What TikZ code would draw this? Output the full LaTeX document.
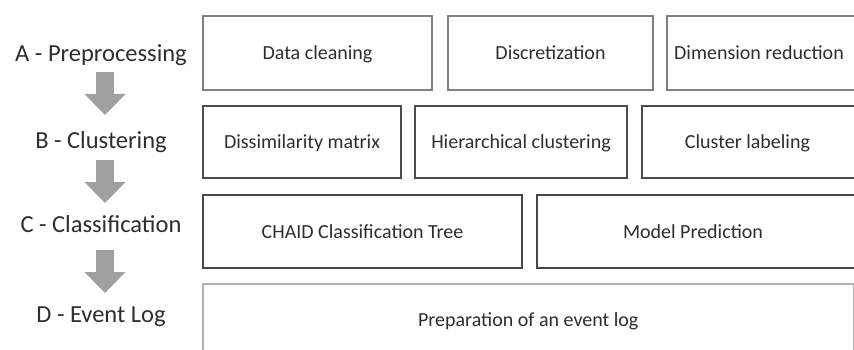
\documentclass[tikz,border=0pt]{standalone}
\usepackage{fontspec}
\setmainfont{Carlito}
\usetikzlibrary{arrows.meta}
\definecolor{txt}{HTML}{2E2E2E}
\definecolor{arrowgray}{HTML}{A0A0A0}
\begin{document}
\begin{tikzpicture}[x=1pt,y=-1pt,
  box/.style={draw, line width=2pt, anchor=north west, inner sep=0pt,
    text height=14pt, text depth=0pt,
    text=txt, font=\fontsize{20}{24}\selectfont, fill=white},
  boxa/.style={box, draw=black!50},
  boxb/.style={box, draw=black!70},
  boxc/.style={box, draw=black!72},
  boxd/.style={box, draw=black!30, line width=1.5pt},
  lab/.style={text=txt, font=\fontsize{24.5}{28}\selectfont, inner sep=0pt, anchor=base},
  bigarrow/.style={draw=arrowgray, line width=18pt,
    -{Triangle[length=21pt,width=40pt,fill=arrowgray]}}]
\useasboundingbox (0,0) rectangle (854,350);
\clip (0,0) rectangle (854,350);
\fill[white] (0,0) rectangle (854,350);
% labels
\node[lab] (la) at (101,62) {A - Preprocessing};
\node[lab] (lb) at (101,149) {B - Clustering};
\node[lab] (lc) at (101,232) {C - Classification};
\node[lab] (ld) at (101,322) {D - Event Log};
% arrows
\coordinate (a1s) at (105,72);  \coordinate (a1e) at (105,115);
\coordinate (a2s) at (105,160); \coordinate (a2e) at (105,203);
\coordinate (a3s) at (105,250); \coordinate (a3e) at (105,293);
\draw[bigarrow] (a1s) -- (a1e);
\draw[bigarrow] (a2s) -- (a2e);
\draw[bigarrow] (a3s) -- (a3e);
% row A
\node[boxa, minimum width=229, minimum height=74] (dc) at (202,15) {Data cleaning};
\node[boxa, minimum width=205, minimum height=74] (di) at (447,15) {Discretization};
\node[boxa, minimum width=192, minimum height=74] (dr) at (666,15) {\hspace*{-8pt}Dimension reduction};
% row B
\node[boxb, minimum width=198, minimum height=72] (dm) at (202,105) {Dissimilarity matrix};
\node[boxb, minimum width=212, minimum height=72] (hc) at (414,105) {Hierarchical clustering};
\node[boxb, minimum width=217, minimum height=72] (cl) at (641,105) {\hspace*{-6pt}Cluster labeling};
% row C
\node[boxc, minimum width=319, minimum height=73] (ct) at (202,194) {CHAID Classification Tree};
\node[boxc, minimum width=322, minimum height=73] (mp) at (536,194) {\hspace*{-10pt}Model Prediction};
% row D
\node[boxd, minimum width=651, minimum height=72] (pe) at (202,283) {Preparation of an event log};
\end{tikzpicture}
\end{document}
